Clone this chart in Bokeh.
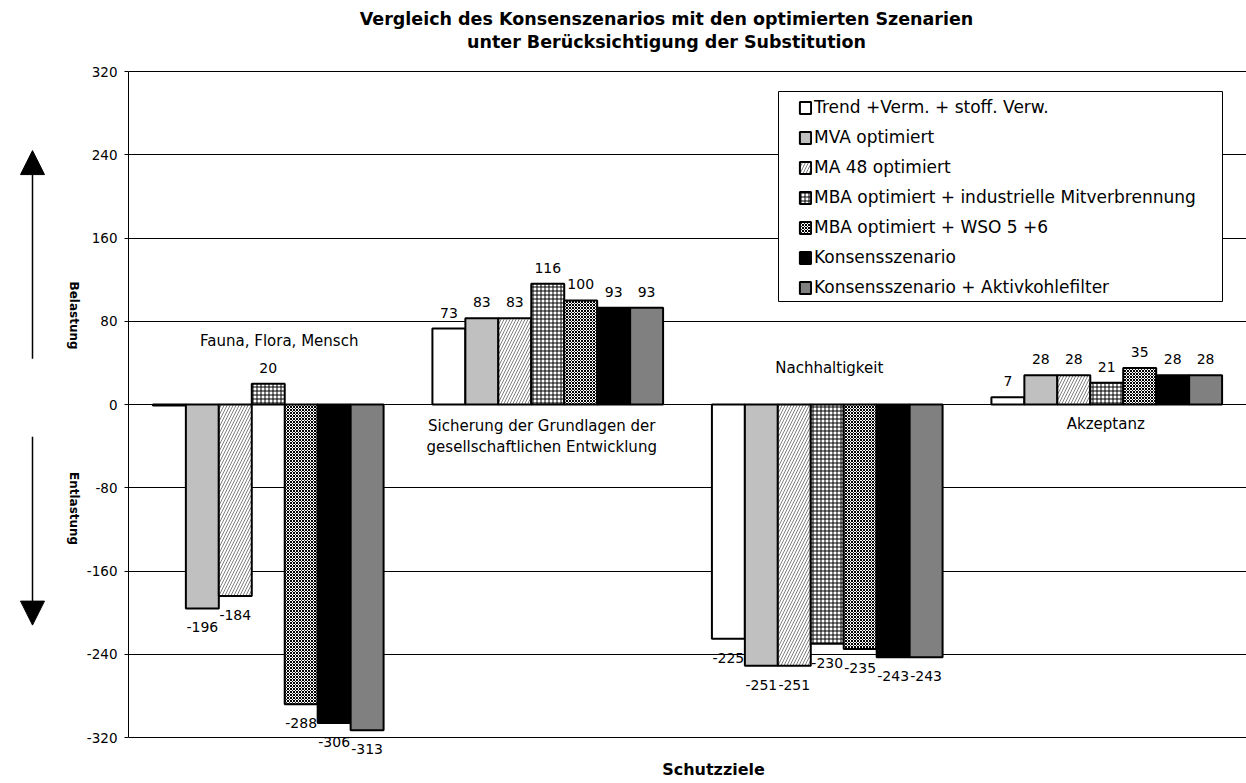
import numpy as np
from bokeh.plotting import figure
from bokeh.models import (ColumnDataSource, Range1d, FactorRange, FixedTicker, Legend,
                          LegendItem, LabelSet, Label, Arrow, NormalHead, BoxAnnotation)
from bokeh.layouts import row
from bokeh.transform import dodge
from bokeh.embed import file_html
from bokeh.resources import INLINE
from bokeh.core.properties import value

# ---------------- data ----------------
categories = ["Fauna, Flora, Mensch",
              "Sicherung der Grundlagen der gesellschaftlichen Entwicklung",
              "Nachhaltigkeit", "Akzeptanz"]
series_names = ["Trend +Verm. + stoff. Verw.",
                "MVA optimiert",
                "MA 48 optimiert",
                "MBA optimiert + industrielle Mitverbrennung",
                "MBA optimiert + WSO 5 +6",
                "Konsensszenario",
                "Konsensszenario + Aktivkohlefilter"]
trend = [-1, 73, -225, 7]
mva = [-196, 83, -251, 28]
ma48 = [-184, 83, -251, 28]
mba_ind = [20, 116, -230, 21]
mba_wso = [-288, 100, -235, 35]
konsens = [-306, 93, -243, 28]
konsens_ak = [-313, 93, -243, 28]
series_values = [trend, mva, ma48, mba_ind, mba_wso, konsens, konsens_ak]
y_ticks = [-320, -240, -160, -80, 0, 80, 160, 240, 320]
y_min, y_max = -320, 320

title_lines = ["Vergleich des Konsenszenarios mit den optimierten Szenarien",
               "unter Berücksichtigung der Substitution"]
x_title = "Schutzziele"
up_label = "Belastung"
down_label = "Entlastung"
cat_label_lines = ["Fauna, Flora, Mensch", "Sicherung der Grundlagen der",
                   "gesellschaftlichen Entwicklung", "Nachhaltigkeit", "Akzeptanz"]

# ---------------- styles / layout ----------------
FONT = "DejaVu Sans"
fills = ["white", "#C0C0C0", "white", "white", "white", "black", "#808080"]
hatches = [None, None, "/", "+", "x", None, None]
hatch_colors = ["black", "black", "#808080", "black", "black", "black", "black"]
hatch_scales = [6, 6, 6, 4, 3, 6, 6]
hatch_weights = [1, 1, 1, 1, 1, 1, 1]

cat_label_cat = [0, 1, 1, 2, 3]
cat_label_y = [60.8, -20.2, -41.3, 34.6, -18.3]
cat_label_dx = [11, -6, -6, 2, -1]

W, H = 1246, 783
LEFT_W = 82
MAIN_BORDER_L = 46
FRAME_L = LEFT_W + MAIN_BORDER_L          # page x of the plot area's left edge
PLOT_TOP, PLOT_BOTTOM = 71, 737            # page y of +320 / -320
PX = (PLOT_BOTTOM - PLOT_TOP) / (y_max - y_min)
y_lo = y_min - (H - PLOT_BOTTOM) / PX
y_hi = y_max + PLOT_TOP / PX
BW = 0.1179

# ---------------- main figure ----------------
p = figure(width=W - LEFT_W, height=H,
           x_range=FactorRange(factors=categories), y_range=Range1d(y_lo, y_hi),
           x_axis_type=None, output_backend="svg", toolbar_location=None, title=None,
           min_border_left=MAIN_BORDER_L, min_border_right=0,
           min_border_top=0, min_border_bottom=0)
p.outline_line_color = None
p.background_fill_color = "white"
p.border_fill_color = "white"

p.yaxis.ticker = FixedTicker(ticks=y_ticks)
p.yaxis.bounds = (y_min, y_max)
p.yaxis.major_label_overrides = {t: str(t) for t in y_ticks}
p.yaxis.major_label_text_font = FONT
p.yaxis.major_label_text_font_size = "13.5px"
p.yaxis.major_label_text_color = "black"
p.yaxis.major_label_standoff = 7
p.yaxis.major_tick_out = 4
p.yaxis.major_tick_in = 0
p.yaxis.minor_tick_line_color = None
p.yaxis.axis_line_color = "black"
p.yaxis.major_tick_line_color = "black"
p.ygrid.ticker = FixedTicker(ticks=y_ticks)
p.ygrid.grid_line_color = "black"
p.ygrid.grid_line_width = 1

data = dict(cat=categories)
for j, vals in enumerate(series_values):
    data[f"s{j}"] = vals
    data[f"t{j}"] = ["" if abs(v) < 2 else str(v) for v in vals]
    data[f"o{j}"] = [16 if v >= 0 else -19 for v in vals]
src = ColumnDataSource(data)

renderers = []
for j in range(len(series_values)):
    off = (j - 3) * BW
    kw = dict(fill_color=fills[j], line_color="black", line_width=2)
    if hatches[j]:
        kw.update(hatch_pattern=hatches[j], hatch_color=hatch_colors[j],
                  hatch_scale=hatch_scales[j], hatch_weight=hatch_weights[j])
    r = p.vbar(x=dodge("cat", off, range=p.x_range), top=f"s{j}", bottom=0,
               width=BW, source=src, **kw)
    renderers.append(r)
    p.add_layout(LabelSet(x=dodge("cat", off, range=p.x_range), y=f"s{j}", text=f"t{j}",
                          y_offset=f"o{j}", source=src, text_align="center",
                          text_baseline="middle", text_font=value(FONT),
                          text_font_size="14px", text_color="black"))

cat_src = ColumnDataSource(dict(x=[categories[c] for c in cat_label_cat], y=cat_label_y,
                                text=cat_label_lines, dx=cat_label_dx))
p.text(x="x", y="y", text="text", x_offset="dx", source=cat_src, text_align="center",
       text_baseline="middle", text_font=value(FONT), text_font_size="15px",
       text_color="black")

# legend frame + legend entries
LEG_L, LEG_R, LEG_T, LEG_B = 778, 1222, 91, 301
CAT_W = (W - FRAME_L) / len(categories)
p.add_layout(BoxAnnotation(left=(LEG_L - FRAME_L) / CAT_W, right=(LEG_R - FRAME_L) / CAT_W,
                           top=y_hi - LEG_T / PX, bottom=y_hi - LEG_B / PX,
                           fill_color="white", fill_alpha=1, line_color="black",
                           line_width=1, line_alpha=1, level="annotation"))
legend = Legend(items=[LegendItem(label=n, renderers=[r]) for n, r in zip(series_names, renderers)],
                location=(798 - FRAME_L, H - LEG_B + 4), orientation="vertical")
legend.label_text_font = FONT
legend.label_text_font_size = "17px"
legend.label_text_color = "black"
legend.glyph_width = 14
legend.glyph_height = 15
legend.label_height = 15
legend.spacing = 10
legend.padding = 5
legend.margin = 0
legend.label_standoff = 2
legend.border_line_color = None
legend.background_fill_alpha = 0
p.add_layout(legend)

# titles (screen units relative to the plot area)
for line, page_y in zip(title_lines, [18, 41.5]):
    p.add_layout(Label(x=666 - FRAME_L, y=H - page_y, x_units="screen", y_units="screen",
                       text=line, text_align="center", text_baseline="middle",
                       text_font=FONT, text_font_size="17.5px", text_font_style="bold",
                       text_color="black"))
p.add_layout(Label(x=713 - FRAME_L, y=H - 769, x_units="screen", y_units="screen",
                   text=x_title, text_align="center", text_baseline="middle",
                   text_font=FONT, text_font_size="16px", text_font_style="bold",
                   text_color="black"))

# ---------------- left figure (arrows) ----------------
q = figure(width=LEFT_W, height=H, x_range=Range1d(0, LEFT_W), y_range=Range1d(y_lo, y_hi),
           x_axis_type=None, y_axis_type=None, output_backend="svg", toolbar_location=None,
           title=None, min_border_left=0, min_border_right=0,
           min_border_top=0, min_border_bottom=0)
q.outline_line_color = None
q.grid.visible = False
q.add_layout(Arrow(x_start=32, y_start=44, x_end=32, y_end=244, line_width=1.5,
                   end=NormalHead(size=24, fill_color="black", line_color="black")))
q.add_layout(Arrow(x_start=32, y_start=-31, x_end=32, y_end=-212, line_width=1.5,
                   end=NormalHead(size=24, fill_color="black", line_color="black")))
q.text(x=[73, 73], y=[85.5, -100], text=[up_label, down_label], angle=-np.pi / 2,
       text_align="center", text_baseline="middle", text_font=value(FONT),
       text_font_size="12px", text_font_style="bold", text_color="black")

layout = row(q, p)
open("out.html", "w").write(file_html(layout, INLINE))
